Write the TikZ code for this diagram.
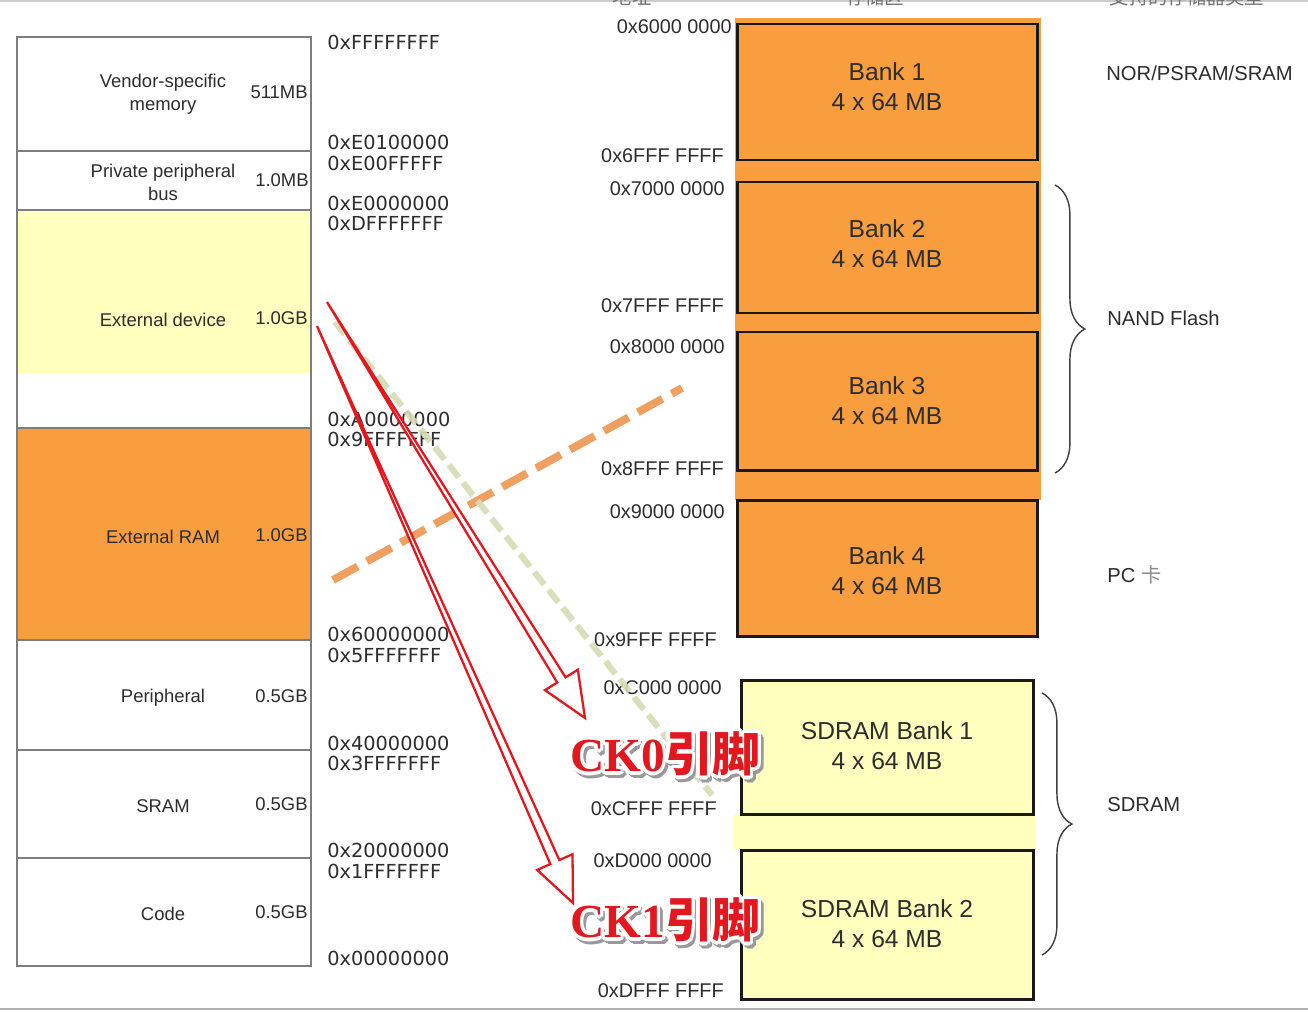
\documentclass[tikz,border=0pt]{standalone}
\usepackage{fontspec}
\setmainfont{Liberation Sans}
\newfontfamily\addrfont{DejaVu Sans}
\newfontfamily\pinfont{Liberation Serif}
\newfontfamily\cjk{Noto Sans CJK SC}
\usetikzlibrary{calc,decorations.pathreplacing}
\definecolor{banko}{RGB}{248,158,62}
\definecolor{devyel}{RGB}{255,255,190}
\definecolor{cellgray}{RGB}{125,125,125}
\definecolor{txt}{RGB}{45,45,45}
\definecolor{pinred}{RGB}{228,22,30}
\definecolor{paleline}{RGB}{214,220,180}
\definecolor{dashorange}{RGB}{238,150,80}
\begin{document}
\begin{tikzpicture}[x=0.02cm,y=-0.02cm,
	cell/.style={draw=cellgray,line width=1.1pt},
	lbl/.style={font=\fontsize{10.5}{13}\selectfont,text=txt,align=center,inner sep=0pt,yshift=-1.2pt},
	sizelbl/.style={lbl,anchor=mid east},
	addr/.style={font=\addrfont\fontsize{11}{13}\selectfont,text=txt,anchor=mid west,inner sep=0pt,yshift=-1.4pt},
	raddr/.style={font=\fontsize{11.3}{13}\selectfont,text=txt,anchor=mid east,inner sep=0pt,yshift=-1.4pt},
	bank/.style={draw=black!90,line width=1.7pt},
	banktxt/.style={font=\fontsize{14}{17}\selectfont,text=txt,align=center,inner sep=0pt},
	kindtxt/.style={font=\fontsize{11.5}{14}\selectfont,text=txt,anchor=mid west,inner sep=0pt,yshift=-1.4pt},
	curly/.style={draw=black!75,line width=0.8pt,decorate,decoration={brace,amplitude=17pt}},
	headtxt/.style={font=\cjk\fontsize{11}{13}\selectfont,text=black!55,inner sep=0pt},
	pintext/.style={font=\pinfont\bfseries\fontsize{27}{30}\selectfont,text=pinred,inner sep=0pt},
	pinarrow/.style={draw=pinred,fill=white,line width=1.3pt,line join=miter}
	]
	\useasboundingbox (0,0) rectangle (1308,1011);
	\fill[white] (0,0) rectangle (1308,1011);
	\draw[black!20,line width=1pt] (0,1) -- (1308,1);
	\draw[black!30,line width=1.5pt] (0,1009) -- (1308,1009);

	% cortex-m memory map
	\fill[devyel] (18,211) rectangle (310,373);
	\fill[banko] (16,429) rectangle (312,640);
	\draw[cell] (17,37) rectangle (311,966);
	\draw[cell] (17,151) -- (311,151);
	\draw[cell] (17,210) -- (311,210);
	\draw[cell] (17,428) -- (311,428);
	\draw[cell] (17,640) -- (311,640);
	\draw[cell] (17,750) -- (311,750);
	\draw[cell] (17,858) -- (311,858);

	\node[lbl] (vendor) at (163,92) {Vendor-specific\\memory};
	\node[sizelbl] (vendorsz) at (308,92) {511MB};
	\node[lbl] (ppb) at (163,180) {Private peripheral\\bus};
	\node[sizelbl] (ppbsz) at (309,180) {1.0MB};
	\node[lbl] (extdev) at (163,318) {External device};
	\node[sizelbl] (extdevsz) at (308,318) {1.0GB};
	\node[lbl] (extram) at (163,535) {External RAM};
	\node[sizelbl] (extramsz) at (308,535) {1.0GB};
	\node[lbl] (periph) at (163,696) {Peripheral};
	\node[sizelbl] (periphsz) at (308,696) {0.5GB};
	\node[lbl] (sram) at (163,804) {SRAM};
	\node[sizelbl] (sramsz) at (308,804) {0.5GB};
	\node[lbl] (code) at (163,912) {Code};
	\node[sizelbl] (codesz) at (308,912) {0.5GB};

	\node[addr] at (327,42) {0xFFFFFFFF};
	\node[addr] at (327,142) {0xE0100000};
	\node[addr] at (327,163) {0xE00FFFFF};
	\node[addr] at (327,203) {0xE0000000};
	\node[addr] at (327,223) {0xDFFFFFFF};
	\node[addr] at (327,419) {0xA0000000};
	\node[addr] at (327,439) {0x9FFFFFFF};
	\node[addr] at (327,634) {0x60000000};
	\node[addr] at (327,655) {0x5FFFFFFF};
	\node[addr] at (327,743) {0x40000000};
	\node[addr] at (327,763) {0x3FFFFFFF};
	\node[addr] at (327,850) {0x20000000};
	\node[addr] at (327,871) {0x1FFFFFFF};
	\node[addr] at (327,958) {0x00000000};

	% fsmc banks
	\node[headtxt] at (632,-3) {地址};
	\node[headtxt] at (875,-3) {存储区};
	\node[headtxt] at (1187,-3) {支持的存储器类型};

	\fill[banko] (735,18) rectangle (1041,500);
	\fill[devyel] (734,814) rectangle (1035,850);
	\draw[bank,fill=banko] (737,24) rectangle (1037,160);
	\draw[bank,fill=banko] (737,182) rectangle (1037,313);
	\draw[bank,fill=banko] (737,332) rectangle (1037,470);
	\draw[bank,fill=banko] (737,500) rectangle (1037,636);
	\draw[bank,fill=devyel] (741,680) rectangle (1033,814);
	\draw[bank,fill=devyel] (741,850) rectangle (1033,999);

	\node[banktxt] (bank1) at (887,87) {Bank 1\\4 x 64 MB};
	\node[banktxt] (bank2) at (887,244) {Bank 2\\4 x 64 MB};
	\node[banktxt] (bank3) at (887,401) {Bank 3\\4 x 64 MB};
	\node[banktxt] (bank4) at (887,571) {Bank 4\\4 x 64 MB};
	\node[banktxt] (sdbank1) at (887,746) {SDRAM Bank 1\\4 x 64 MB};
	\node[banktxt] (sdbank2) at (887,924) {SDRAM Bank 2\\4 x 64 MB};

	\node[raddr] at (732,26) {0x6000 0000};
	\node[raddr] at (724,155) {0x6FFF FFFF};
	\node[raddr] at (725,188) {0x7000 0000};
	\node[raddr] at (724,305) {0x7FFF FFFF};
	\node[raddr] at (725,346) {0x8000 0000};
	\node[raddr] at (724,468) {0x8FFF FFFF};
	\node[raddr] at (725,511) {0x9000 0000};
	\node[raddr] at (717,639) {0x9FFF FFFF};
	\node[raddr] at (722,687) {0xC000 0000};
	\node[raddr] at (717,808) {0xCFFF FFFF};
	\node[raddr] at (712,860) {0xD000 0000};
	\node[raddr] at (724,990) {0xDFFF FFFF};

	\node[kindtxt] (nor) at (1106,73) {NOR/PSRAM/SRAM};
	\node[kindtxt] (nand) at (1107,318) {NAND Flash};
	\node[kindtxt] (pccard) at (1107,575) {PC {\cjk\color{black!45}卡}};
	\node[kindtxt] (sdram) at (1107,804) {SDRAM};
	\draw[curly] (1055,185) -- (1055,473);
	\draw[curly] (1042,693) -- (1042,955);

	% dashed guides
	\coordinate (ramlo) at (333,580);
	\coordinate (ramhi) at (682,388);
	\coordinate (devhi) at (335,322);
	\coordinate (devlo) at (712,795);
	\draw[dashorange,line width=4.5pt,dash pattern=on 16pt off 6pt,opacity=0.9] (ramlo) -- (ramhi);
	\draw[paleline,line width=3.5pt,dash pattern=on 9pt off 4pt,opacity=0.9] (devhi) -- (devlo);

	% CK0 / CK1 arrows
	\coordinate (ckAfrom) at (327,302);
	\coordinate (ckAto) at (585,718);
	\coordinate (ckAbase) at ($(ckAto)!25.5pt!(ckAfrom)$);
	\draw[pinarrow] (ckAfrom) -- ($(ckAbase)!2.8pt!90:(ckAto)$) -- ($(ckAbase)!11pt!90:(ckAto)$) -- (ckAto)
		-- ($(ckAbase)!11pt!-90:(ckAto)$) -- ($(ckAbase)!2.8pt!-90:(ckAto)$) -- cycle;
	\coordinate (ckBfrom) at (317,326);
	\coordinate (ckBto) at (573,903);
	\coordinate (ckBbase) at ($(ckBto)!25.5pt!(ckBfrom)$);
	\draw[pinarrow] (ckBfrom) -- ($(ckBbase)!2.8pt!90:(ckBto)$) -- ($(ckBbase)!11pt!90:(ckBto)$) -- (ckBto)
		-- ($(ckBbase)!11pt!-90:(ckBto)$) -- ($(ckBbase)!2.8pt!-90:(ckBto)$) -- cycle;

	\foreach \a in {0,30,...,330}
		\node[pintext,text=black!40] at (665,754) [shift={(\a:1.8pt)},xshift=1.6pt,yshift=-2pt] {CK0{\cjk 引脚}};
	\foreach \a in {0,30,...,330}
		\node[pintext,text=white] at (665,754) [shift={(\a:2pt)}] {CK0{\cjk 引脚}};
	\node[pintext] (ckzero) at (665,754) {CK0{\cjk 引脚}};
	\foreach \a in {0,30,...,330}
		\node[pintext,text=black!40] at (665,920) [shift={(\a:1.8pt)},xshift=1.6pt,yshift=-2pt] {CK1{\cjk 引脚}};
	\foreach \a in {0,30,...,330}
		\node[pintext,text=white] at (665,920) [shift={(\a:2pt)}] {CK1{\cjk 引脚}};
	\node[pintext] (ckone) at (665,920) {CK1{\cjk 引脚}};
\end{tikzpicture}
\end{document}
